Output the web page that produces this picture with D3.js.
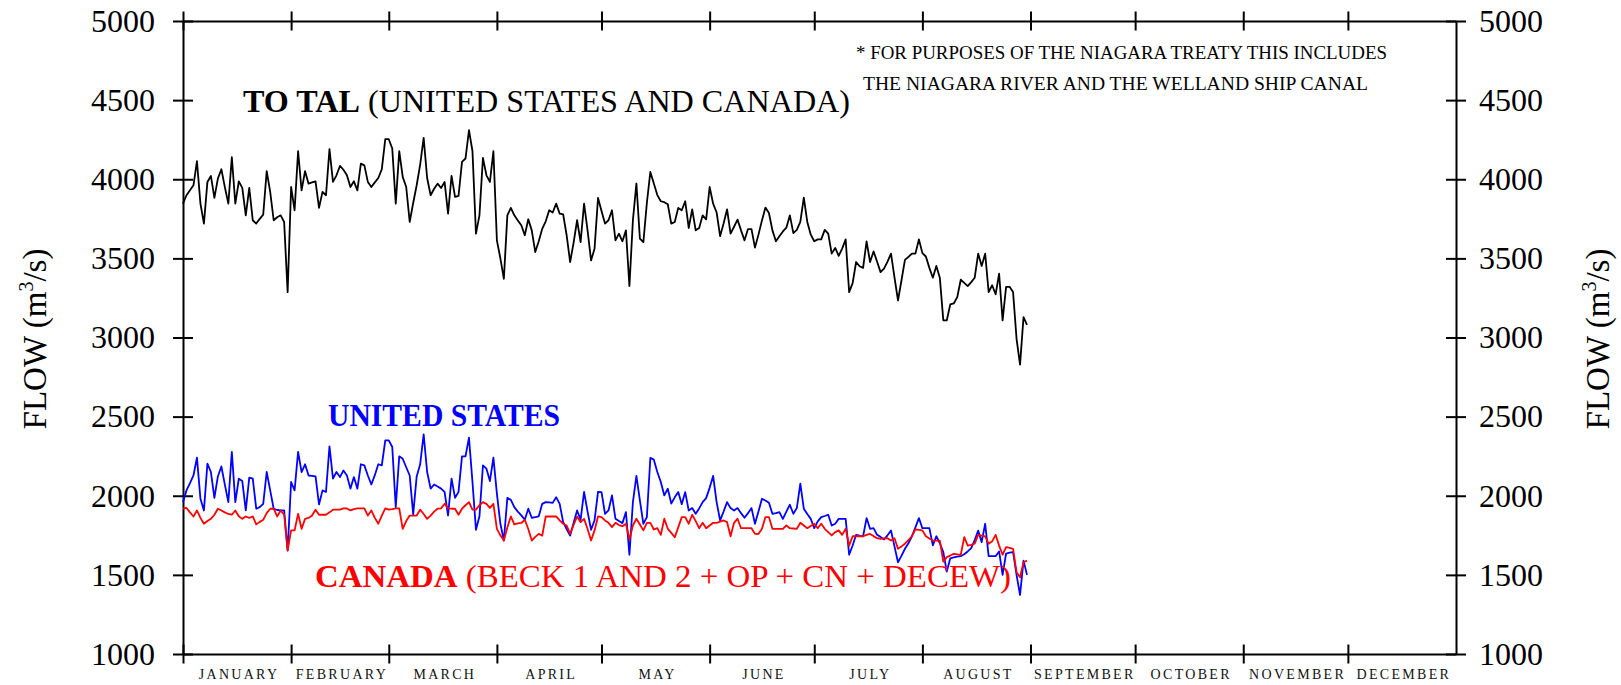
<!DOCTYPE html>
<html>
<head>
<meta charset="utf-8">
<script src="https://cdn.jsdelivr.net/npm/d3@7"></script>
<style>
  body { margin: 0; background: #fff; }
  svg { display: block; }
  text { font-family: "Liberation Serif", "Times New Roman", serif; }
</style>
</head>
<body>
<svg id="chart"></svg>
<script>
// daily flows, 1 January to 31 August (m3/s)
const startDay = new Date(2001, 0, 1);

const totalFlow = [
  3846, 3899, 3930, 3962, 4114, 3846, 3720, 3983, 4021, 3882,
  4004, 4063, 3950, 3846, 4139, 3846, 3987, 3945, 3772, 3945,
  3741, 3720, 3750, 3776, 4051, 3920, 3741, 3760, 3772, 3730,
  3287, 3951, 3804, 4177, 3930, 4051, 3972, 3980, 3987, 3819,
  3920, 3899, 4190, 3983, 4025, 4084, 4060, 4025, 3951, 3987,
  3930, 4099, 4088, 3983, 3951, 3980, 4008, 4063, 4253, 4253,
  4194, 3846, 4177, 4015, 3951, 3730, 3850, 3962, 4093, 4262,
  4008, 3899, 3940, 3972, 3945, 3983, 3783, 4021, 3889, 3895,
  4110, 4131, 4310, 4177, 3656, 3772, 4135, 4025, 3983, 4177,
  3614, 3500, 3371, 3772, 3819, 3772, 3740, 3709, 3646, 3747,
  3677, 3540, 3608, 3687, 3734, 3804, 3790, 3846, 3783, 3778,
  3646, 3477, 3600, 3741, 3603, 3846, 3677, 3487, 3561, 3882,
  3800, 3720, 3741, 3804, 3614, 3656, 3608, 3677, 3325, 3741,
  3973, 3625, 3603, 3850, 4046, 3973, 3900, 3861, 3855, 3842,
  3720, 3730, 3819, 3804, 3861, 3692, 3810, 3677, 3692, 3772,
  3747, 3951, 3846, 3790, 3640, 3720, 3810, 3656, 3700, 3745,
  3677, 3614, 3685, 3685, 3568, 3650, 3740, 3821, 3787, 3677,
  3608, 3640, 3670, 3694, 3772, 3660, 3680, 3730, 3884, 3730,
  3650, 3608, 3620, 3620, 3680, 3656, 3530, 3566, 3516, 3562,
  3620, 3287, 3344, 3477, 3450, 3440, 3608, 3477, 3544, 3480,
  3413, 3435, 3480, 3530, 3380, 3234, 3360, 3490, 3510, 3530,
  3530, 3620, 3533, 3512, 3440, 3378, 3452, 3378, 3108, 3108,
  3209, 3215, 3255, 3365, 3345, 3325, 3350, 3378, 3530, 3452,
  3530, 3287, 3330, 3273, 3403, 3108, 3320, 3320, 3287, 2992,
  2829, 3129, 3080
];

const usFlow = [
  1960, 2034, 2080, 2128, 2241, 1981, 1907, 2203, 2150, 1987,
  2122, 2185, 2070, 1960, 2277, 1960, 2108, 2093, 1907, 2114,
  2108, 1918, 1928, 1949, 2150, 2034, 1918, 1910, 1907, 1907,
  1654, 2087, 2034, 2277, 2150, 2199, 2128, 2125, 2122, 1945,
  2034, 2024, 2312, 2108, 2150, 2118, 2160, 2128, 2045, 2118,
  2045, 2199, 2192, 2128, 2071, 2130, 2199, 2192, 2350, 2350,
  2308, 1928, 2249, 2234, 2180, 2128, 1882, 2122, 2199, 2388,
  2150, 2045, 2071, 2058, 2045, 2024, 1875, 2108, 1987, 2024,
  2249, 2249, 2367, 2087, 1785, 1870, 2192, 2171, 2093, 2241,
  2013, 1823, 1717, 1987, 1974, 1928, 1900, 1876, 1848, 1918,
  1861, 1865, 1870, 1949, 1960, 1958, 1955, 1991, 1949, 1833,
  1790, 1748, 1830, 1907, 1848, 2024, 1900, 1785, 1844, 2024,
  2023, 1886, 1907, 2002, 1854, 1840, 1827, 1897, 1627, 1960,
  2125, 1970, 1823, 1865, 2239, 2228, 2150, 2087, 2002, 2044,
  1951, 1990, 2023, 1947, 2023, 1907, 1922, 1886, 1920, 1960,
  1985, 2050, 2125, 1960, 1844, 1900, 1960, 1922, 1907, 1922,
  1890, 1861, 1890, 1922, 1823, 1900, 1981, 1970, 1956, 1886,
  1890, 1897, 1854, 1900, 1943, 1886, 1922, 2076, 1918, 1885,
  1854, 1795, 1838, 1865, 1872, 1880, 1812, 1823, 1854, 1854,
  1854, 1627, 1686, 1753, 1748, 1744, 1859, 1791, 1795, 1753,
  1740, 1724, 1750, 1780, 1680, 1580, 1620, 1665, 1700, 1744,
  1800, 1859, 1795, 1795, 1795, 1686, 1744, 1700, 1644, 1521,
  1605, 1610, 1615, 1618, 1630, 1648, 1669, 1720, 1780, 1707,
  1823, 1618, 1618, 1618, 1648, 1500, 1635, 1640, 1644, 1500,
  1373, 1590, 1500
];

const canadaFlow = [
  1918, 1923, 1895, 1869, 1907, 1860, 1823, 1840, 1854, 1880,
  1918, 1907, 1895, 1885, 1880, 1907, 1870, 1854, 1869, 1860,
  1869, 1819, 1835, 1848, 1890, 1918, 1918, 1869, 1907, 1880,
  1654, 1781, 1781, 1886, 1791, 1854, 1860, 1875, 1912, 1880,
  1880, 1880, 1895, 1912, 1912, 1912, 1920, 1920, 1907, 1915,
  1920, 1920, 1920, 1875, 1907, 1860, 1823, 1875, 1920, 1912,
  1915, 1920, 1920, 1791, 1840, 1875, 1875, 1875, 1912, 1885,
  1854, 1875, 1900, 1918, 1920, 1949, 1920, 1918, 1918, 1880,
  1918, 1940, 1960, 1912, 1912, 1940, 1960, 1949, 1923, 1949,
  1791, 1750, 1717, 1800, 1869, 1819, 1825, 1828, 1848, 1790,
  1717, 1740, 1759, 1748, 1869, 1869, 1869, 1869, 1845, 1823,
  1812, 1759, 1815, 1869, 1833, 1854, 1790, 1717, 1781, 1869,
  1865, 1844, 1829, 1802, 1829, 1815, 1808, 1823, 1724, 1812,
  1855, 1818, 1781, 1829, 1829, 1787, 1795, 1753, 1855, 1791,
  1765, 1738, 1800, 1865, 1865, 1823, 1880, 1840, 1795, 1829,
  1795, 1812, 1829, 1829, 1836, 1844, 1833, 1744, 1829, 1855,
  1795, 1795, 1795, 1795, 1759, 1759, 1791, 1865, 1865, 1791,
  1791, 1791, 1791, 1812, 1795, 1793, 1791, 1829, 1812, 1795,
  1809, 1823, 1795, 1823, 1791, 1770, 1749, 1770, 1781, 1753,
  1791, 1685, 1744, 1744, 1744, 1744, 1753, 1759, 1745, 1732,
  1728, 1730, 1732, 1717, 1732, 1665, 1680, 1697, 1720, 1744,
  1787, 1784, 1781, 1744, 1730, 1717, 1717, 1717, 1584, 1612,
  1622, 1633, 1630, 1627, 1738, 1685, 1690, 1697, 1753, 1748,
  1744, 1697, 1712, 1753, 1685, 1627, 1675, 1670, 1665, 1517,
  1485, 1580, 1590
];

const monthNames = ["JANUARY", "FEBRUARY", "MARCH", "APRIL", "MAY", "JUNE",
  "JULY", "AUGUST", "SEPTEMBER", "OCTOBER", "NOVEMBER", "DECEMBER"];

const yTicks = [1000, 1500, 2000, 2500, 3000, 3500, 4000, 4500, 5000];

const wSvg = 1621;
const hSvg = 685;
const margin = { top: 21, right: 165, bottom: 31, left: 183 };

const svg = d3.select("#chart")
  .attr("width", wSvg)
  .attr("height", hSvg);

const x = d3.scaleTime()
  .domain([startDay, new Date(2002, 0, 1)])
  .range([margin.left, wSvg - margin.right]);

const y = d3.scaleLinear()
  .domain([1000, 5000])
  .range([hSvg - margin.bottom, margin.top]);

const monthStarts = d3.timeMonth.range(startDay, new Date(2002, 0, 1));

function styleAxis(g) {
  g.attr("font-size", 32).attr("font-family", null);
  g.select(".domain").attr("stroke-width", 2);
  g.selectAll(".tick line").attr("stroke-width", 2);
}

// bottom and top: month ticks crossing the line
svg.append("g")
  .attr("transform", `translate(0, ${hSvg - margin.bottom})`)
  .call(d3.axisBottom(x).tickValues(monthStarts).tickSize(9.5).tickSizeOuter(0).tickFormat(""))
  .call(styleAxis)
  .call(g => g.selectAll(".tick line").attr("y1", -9.5));

svg.append("g")
  .attr("transform", `translate(0, ${margin.top})`)
  .call(d3.axisTop(x).tickValues(monthStarts).tickSize(9.5).tickSizeOuter(0).tickFormat(""))
  .call(styleAxis)
  .call(g => g.selectAll(".tick line").attr("y1", 9.5));

// left and right flow axes
svg.append("g")
  .attr("transform", `translate(${margin.left}, 0)`)
  .call(d3.axisLeft(y).tickValues(yTicks).tickSize(10).tickSizeOuter(0).tickPadding(18).tickFormat(d3.format("d")))
  .call(styleAxis)
  .call(g => g.selectAll(".tick line").attr("x1", 10));

svg.append("g")
  .attr("transform", `translate(${wSvg - margin.right}, 0)`)
  .call(d3.axisRight(y).tickValues(yTicks).tickSize(10).tickSizeOuter(0).tickPadding(13).tickFormat(d3.format("d")))
  .call(styleAxis)
  .call(g => g.selectAll(".tick line").attr("x1", -10));

// month names centred in each month
svg.append("g")
  .selectAll("text")
  .data(monthNames)
  .join("text")
  .attr("x", (d, i) => (x(monthStarts[i]) + x(d3.timeMonth.offset(monthStarts[i], 1))) / 2 + 2)
  .attr("y", 679)
  .attr("text-anchor", "middle")
  .attr("font-size", 14)
  .attr("letter-spacing", 2.3)
  .attr("fill", "#111")
  .text(d => d);

// the three series
const dayOf = i => d3.timeDay.offset(startDay, i);

function drawSeries(values, color) {
  const line = d3.line()
    .x((d, i) => x(dayOf(i)))
    .y(d => y(d));
  svg.append("path")
    .datum(values)
    .attr("d", line)
    .attr("fill", "none")
    .attr("stroke", color)
    .attr("stroke-width", 1.8)
    .attr("stroke-linejoin", "round");
}

drawSeries(totalFlow, "#000");
drawSeries(usFlow, "#0000ff");
drawSeries(canadaFlow, "#ff0000");

// axis titles
function flowTitle(tx) {
  const t = svg.append("text")
    .attr("transform", `translate(${tx}, 339) rotate(-90)`)
    .attr("text-anchor", "middle")
    .attr("font-size", 33);
  t.append("tspan").text("FLOW (m");
  t.append("tspan").attr("font-size", 20).attr("dy", -13).text("3");
  t.append("tspan").attr("dy", 13).text("/s)");
}
flowTitle(46);
flowTitle(1609);

// series labels
const totalLabel = svg.append("text")
  .attr("x", 243).attr("y", 111.5)
  .attr("font-size", 32)
  .attr("textLength", 607).attr("lengthAdjust", "spacingAndGlyphs");
totalLabel.append("tspan").attr("font-weight", "bold").text("TO TAL");
totalLabel.append("tspan").text(" (UNITED STATES AND CANADA)");

svg.append("text")
  .attr("x", 328).attr("y", 425.5)
  .attr("font-size", 32)
  .attr("font-weight", "bold")
  .attr("fill", "#0000ff")
  .attr("textLength", 232).attr("lengthAdjust", "spacingAndGlyphs")
  .text("UNITED STATES");

const canadaLabel = svg.append("text")
  .attr("x", 315).attr("y", 587)
  .attr("font-size", 32)
  .attr("fill", "#ff0000")
  .attr("textLength", 696).attr("lengthAdjust", "spacingAndGlyphs");
canadaLabel.append("tspan").attr("font-weight", "bold").text("CANADA");
canadaLabel.append("tspan").text(" (BECK 1 AND 2 + OP + CN + DECEW)");

// treaty note
svg.append("text")
  .attr("x", 856).attr("y", 59)
  .attr("font-size", 18.5)
  .attr("textLength", 531).attr("lengthAdjust", "spacingAndGlyphs")
  .text("* FOR PURPOSES OF THE NIAGARA TREATY THIS INCLUDES");

svg.append("text")
  .attr("x", 863).attr("y", 90)
  .attr("font-size", 18.5)
  .attr("textLength", 505).attr("lengthAdjust", "spacingAndGlyphs")
  .text("THE NIAGARA RIVER AND THE WELLAND SHIP CANAL");
</script>
</body>
</html>
